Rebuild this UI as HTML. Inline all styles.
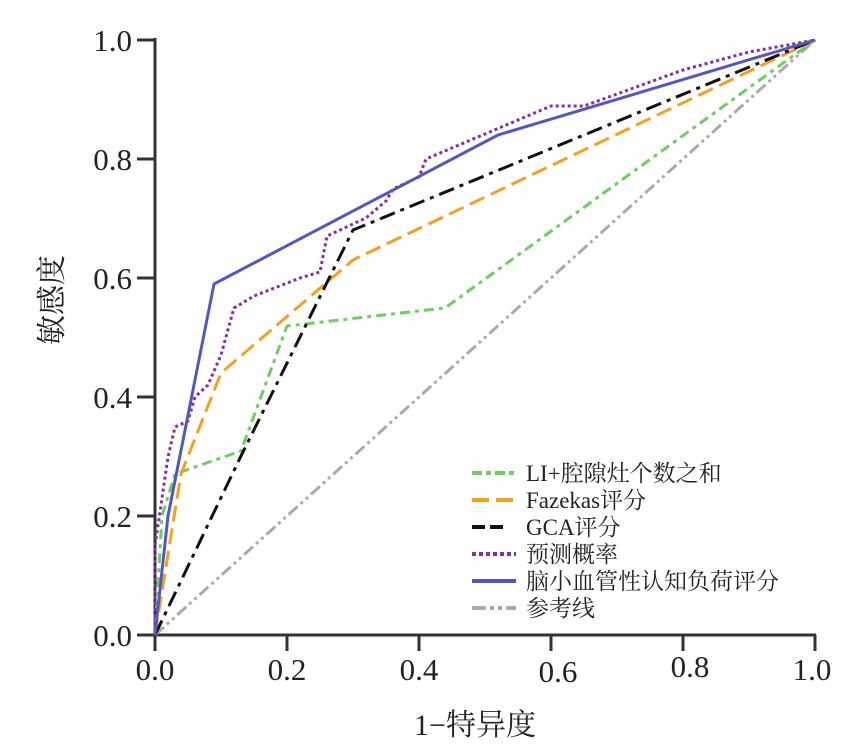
<!DOCTYPE html>
<html><head><meta charset="utf-8"><style>
html,body{margin:0;padding:0;background:#fff;}
svg{display:block;font-family:"Liberation Serif","Noto Serif CJK SC",serif;}
</style></head><body>
<svg width="861" height="747" viewBox="0 0 861 747" xmlns="http://www.w3.org/2000/svg">
<g stroke="#333" stroke-width="3" fill="none">
<line x1="155" y1="38" x2="155" y2="636"/>
<line x1="154" y1="635" x2="816" y2="635"/>
<line x1="137" y1="40" x2="155" y2="40"/>
<line x1="137" y1="159" x2="155" y2="159"/>
<line x1="137" y1="278" x2="155" y2="278"/>
<line x1="137" y1="397" x2="155" y2="397"/>
<line x1="137" y1="516" x2="155" y2="516"/>
<line x1="137" y1="635" x2="155" y2="635"/>
<line x1="155" y1="635" x2="155" y2="651"/>
<line x1="287" y1="635" x2="287" y2="651"/>
<line x1="419" y1="635" x2="419" y2="651"/>
<line x1="551" y1="635" x2="551" y2="651"/>
<line x1="683" y1="635" x2="683" y2="651"/>
<line x1="815" y1="635" x2="815" y2="651"/>
</g>
<g font-size="31" fill="#222" text-anchor="end">
<text x="132" y="51">1.0</text><text x="132" y="170">0.8</text><text x="132" y="289">0.6</text>
<text x="132" y="408">0.4</text><text x="132" y="527">0.2</text><text x="132" y="646">0.0</text>
</g>
<g font-size="31" fill="#222" text-anchor="middle">
<text x="155" y="680">0.0</text><text x="287" y="680">0.2</text><text x="419" y="680">0.4</text>
<text x="558" y="682">0.6</text><text x="690" y="677">0.8</text><text x="812" y="680">1.0</text>
</g>
<text x="475" y="735" font-size="30" fill="#222" text-anchor="middle">1−特异度</text>
<text transform="translate(62,300) rotate(-90)" font-size="30" fill="#222" text-anchor="middle">敏感度</text>
<g fill="none" stroke-width="3" stroke-linejoin="round">
<polyline stroke="#aaa" stroke-dasharray="12,4,3,4,3,4" points="155,635 815,40"/>
<polyline stroke="#6dcf60" stroke-dasharray="10,5,4,5" points="155,635 162,516 175,474 241,451 287,326 445,308 815,40"/>
<polyline stroke="#f5a020" stroke-dasharray="16,7" points="155,635 181,474 221,373 353,260 815,40"/>
<polyline stroke="#111" stroke-dasharray="16,6,4,6" points="155,635 241,456 353,230 815,40"/>
<polyline stroke="#8a2ca8" stroke-dasharray="3,3" points="155,635 155,546 162,498 168,457 175,427 188,421 195,397 208,385 221,355 234,308 254,296 300,278 320,272 327,236 353,224 366,218 386,201 393,189 419,177 426,159 551,106 584,106 683,70 749,52 815,40"/>
<polyline stroke="#5458bd" points="155,635 168,516 214,284 498,135 815,40"/>
</g>
<g stroke-width="4" fill="none">
<line x1="472" y1="473" x2="516" y2="473" stroke="#6dcf60" stroke-dasharray="10,4,5,4"/>
<line x1="472" y1="500" x2="516" y2="500" stroke="#f5a020" stroke-dasharray="17,7"/>
<line x1="472" y1="527" x2="504" y2="527" stroke="#111" stroke-dasharray="13,5"/>
<line x1="472" y1="554" x2="516" y2="554" stroke="#8a2ca8" stroke-dasharray="4,3"/>
<line x1="472" y1="581" x2="516" y2="581" stroke="#5458bd"/>
<line x1="472" y1="608" x2="516" y2="608" stroke="#aaa" stroke-dasharray="14,4,4,4,4,4"/>
</g>
<g font-size="23" fill="#222">
<text x="526" y="481">LI+腔隙灶个数之和</text>
<text x="526" y="508">Fazekas评分</text>
<text x="526" y="535">GCA评分</text>
<text x="526" y="562">预测概率</text>
<text x="526" y="589">脑小血管性认知负荷评分</text>
<text x="526" y="616">参考线</text>
</g>
</svg>
</body></html>
